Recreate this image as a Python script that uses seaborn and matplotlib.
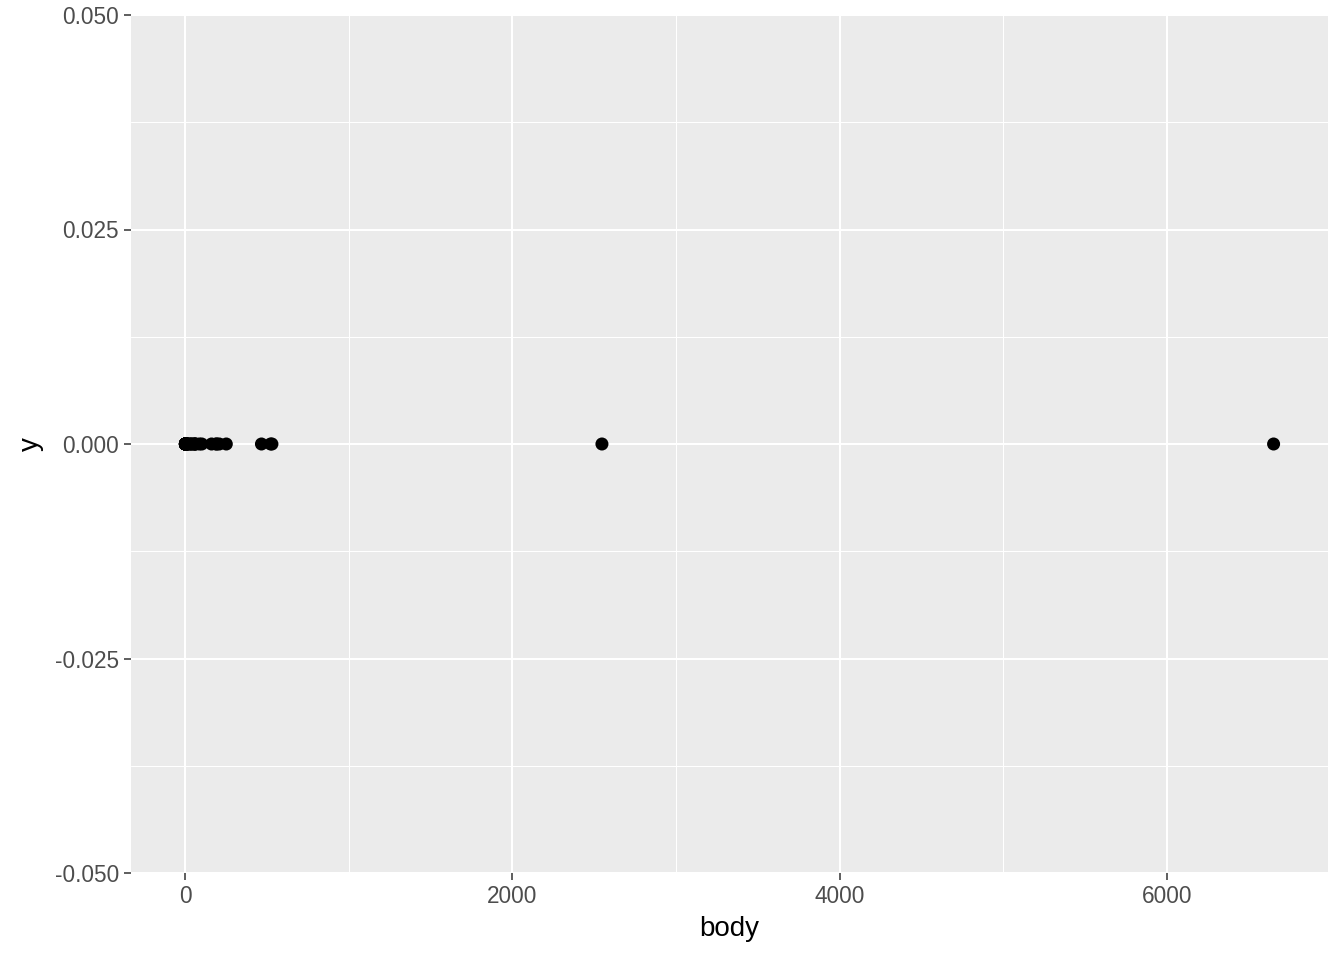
import numpy as np
import pandas as pd
import seaborn as sns
import matplotlib.pyplot as plt
from matplotlib.ticker import FixedLocator

# body weights (kg), mammals data
body = [3.385, 0.48, 1.35, 465, 36.33, 27.66, 14.83, 1.04, 4.19, 0.425,
        0.101, 0.92, 1, 0.005, 0.06, 3.5, 2, 1.7, 2547, 0.023,
        187.1, 521, 0.785, 10, 3.3, 0.2, 1.41, 529, 207, 85,
        0.75, 62, 6654, 3.5, 6.8, 35, 4.05, 0.12, 0.023, 0.01,
        1.4, 250, 2.5, 55.5, 100, 52.16, 10.55, 0.55, 60, 3.6,
        4.288, 0.28, 0.075, 0.122, 0.048, 192, 3, 160, 0.9, 1.62,
        0.104, 4.235]
yvals = [0.0] * len(body)

x_ticks = [0, 2000, 4000, 6000]
y_ticks = [-0.05, -0.025, 0.0, 0.025, 0.05]
y_labels = ["-0.050", "-0.025", "0.000", "0.025", "0.050"]

df = pd.DataFrame({"body": body, "y": yvals})

sns.set_theme(style="darkgrid")
plt.rcParams['font.family'] = ['Liberation Sans', 'DejaVu Sans']

fig = plt.figure(figsize=(13.44, 9.6), dpi=100)
ax = fig.add_axes([131 / 1344, 1 - 873 / 960, (1328 - 131) / 1344, (873 - 15) / 960])
ax.set_facecolor('#EBEBEB')

sns.scatterplot(data=df, x="body", y="y", ax=ax, color='black', s=88,
                edgecolor='none', linewidth=0, zorder=3)

span = max(body) - min(body)
ax.set_xlim(min(body) - 0.05 * span, max(body) + 0.05 * span)
ax.set_ylim(-0.05, 0.05)

ax.xaxis.set_major_locator(FixedLocator(x_ticks))
ax.xaxis.set_minor_locator(FixedLocator([1000, 3000, 5000]))
ax.set_yticks(y_ticks)
ax.set_yticklabels(y_labels)
ax.yaxis.set_minor_locator(FixedLocator([-0.0375, -0.0125, 0.0125, 0.0375]))

ax.grid(which='major', color='white', linewidth=1.5)
ax.grid(which='minor', color='white', linewidth=0.75)
ax.set_axisbelow(True)
for s in ax.spines.values():
    s.set_visible(False)

ax.tick_params(which='major', bottom=True, left=True, length=5, width=1.1,
               color='#333333', labelsize=16.3, labelcolor='#4D4D4D', pad=3.5)
ax.tick_params(which='minor', bottom=False, left=False, length=0)

ax.set_xlabel("body", fontsize=20, color='black', labelpad=6)
ax.set_ylabel("y", fontsize=20, color='black', labelpad=8)

fig.savefig("out.png", dpi=100)
